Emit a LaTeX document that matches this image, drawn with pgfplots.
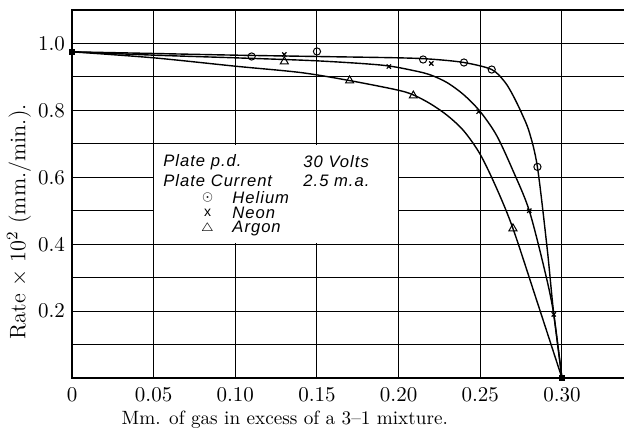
\documentclass[border=0pt]{standalone}
\usepackage{fontspec}
\usepackage{pgfplots}
\pgfplotsset{compat=1.18}
\newfontfamily\leroy{Liberation Sans}[LetterSpace=6]

\begin{document}
\begin{tikzpicture}
\path[use as bounding box] (-36pt,-26.5pt) rectangle (276pt,189pt);
\begin{axis}[
  scale only axis, width=280pt, height=184pt,
  xmin=0, xmax=0.3429, ymin=0, ymax=1.1,
  xtick={0,0.05,0.1,0.15,0.2,0.25,0.3},
  xticklabels={0,0.05,0.10,0.15,0.20,0.25,0.30},
  ytick={0.2,0.4,0.6,0.8,1.0},
  yticklabels={0.2,0.4,0.6,0.8,1.0},
  minor ytick={0.1,0.3,0.5,0.7,0.9},
  grid=both,
  major grid style={black, line width=0.5pt},
  minor grid style={black, line width=0.5pt},
  axis line style={black, line width=0.6pt},
  major tick length=0pt, minor tick length=0pt,
  tick label style={font=\fontsize{10.5}{12}\selectfont},
  xticklabel style={yshift=-1pt},
  xlabel={Mm. of gas in excess of a 3--1 mixture.},
  ylabel={Rate $\times$ 10$^2$ (mm./min.).},
  xlabel style={at={(rel axis cs:0.380,-0.1141)}, anchor=center, font=\fontsize{9.6}{11}\selectfont},
  ylabel style={at={(rel axis cs:-0.0946,0.424)}, anchor=center, font=\fontsize{11.2}{13}\selectfont},
  clip=false,
]
% blank panel behind the key
\fill[white] (axis cs:0.0503,0.403) rectangle (axis cs:0.1997,0.697);

% fitted curves
\addplot[black, line width=0.7pt, smooth] coordinates {
  (0,0.975) (0.05,0.970) (0.1,0.965) (0.15,0.961) (0.2,0.957) (0.22,0.953)
  (0.24,0.943) (0.257,0.922) (0.265,0.885) (0.27,0.845) (0.275,0.795)
  (0.28,0.735) (0.285,0.63) (0.291,0.385) (0.2948,0.2) (0.30,0)};
\addplot[black, line width=0.7pt, smooth] coordinates {
  (0,0.975) (0.05,0.965) (0.1,0.957) (0.15,0.948) (0.19,0.935) (0.21,0.918)
  (0.22,0.905) (0.23,0.882) (0.24,0.846) (0.25,0.796) (0.26,0.725) (0.27,0.62)
  (0.28,0.5) (0.29,0.31) (0.295,0.19) (0.30,0)};
\addplot[black, line width=0.7pt, smooth] coordinates {
  (0,0.975) (0.05,0.957) (0.1,0.932) (0.14,0.913) (0.17,0.889) (0.2,0.86)
  (0.21,0.844) (0.22,0.818) (0.23,0.784) (0.24,0.738) (0.25,0.668) (0.26,0.567)
  (0.27,0.447) (0.285,0.225) (0.30,0)};

% observations
\addplot[only marks, mark=o, mark size=1.8pt, mark options={fill=white, line width=0.5pt}]
  coordinates {(0.110,0.961) (0.150,0.976) (0.215,0.952) (0.240,0.943) (0.257,0.922) (0.285,0.631)};
\addplot[only marks, mark=x, mark size=1.5pt, mark options={line width=0.6pt}]
  coordinates {(0.130,0.967) (0.194,0.931) (0.220,0.940) (0.249,0.796) (0.280,0.500) (0.295,0.190)};
\addplot[only marks, mark=triangle, mark size=2.3pt, mark options={fill=white, line width=0.5pt}]
  coordinates {(0.130,0.946) (0.170,0.889) (0.209,0.844) (0.270,0.447)};
\addplot[only marks, mark=square*, mark size=1.3pt] coordinates {(0,0.975) (0.30,0)};

% key
\begin{scope}[every node/.style={font=\leroy\itshape\fontsize{8.3}{9}\selectfont, inner sep=0pt}]
\node[anchor=west] at (axis cs:0.0557,0.646) {Plate p.d.};
\node[anchor=west] at (axis cs:0.1415,0.646) {30 Volts};
\node[anchor=west] at (axis cs:0.0557,0.590) {Plate Current};
\node[anchor=west] at (axis cs:0.1415,0.590) {2.5 m.a.};
\node at (axis cs:0.083,0.540) {$\scriptstyle\odot$};
\node at (axis cs:0.083,0.495) {\upshape\fontsize{7}{8}\selectfont x};
\node at (axis cs:0.083,0.447) {$\scriptstyle\triangle$};
\node[anchor=west] at (axis cs:0.098,0.540) {Helium};
\node[anchor=west] at (axis cs:0.098,0.495) {Neon};
\node[anchor=west] at (axis cs:0.098,0.447) {Argon};
\end{scope}
\end{axis}
\end{tikzpicture}
\end{document}
